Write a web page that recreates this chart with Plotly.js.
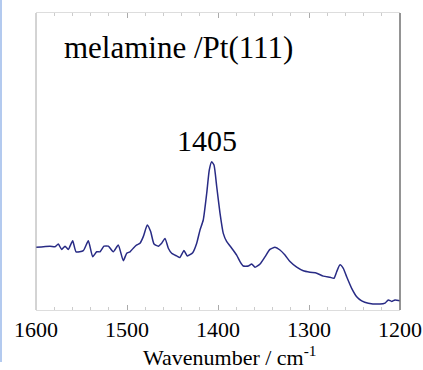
<!DOCTYPE html>
<html>
<head>
<meta charset="utf-8">
<script src="https://cdn.plot.ly/plotly-3.0.1.min.js"></script>
<style>
  html, body { margin: 0; padding: 0; background: #fff; }
  #strip { position: absolute; left: 0; top: 0; width: 2px; height: 362px; background: #b3caef; z-index: 5; }
  #chart { width: 423px; height: 370px; }
</style>
</head>
<body>
<div id="strip"></div>
<div id="chart"></div>
<script>
// Wavenumber (cm^-1)
const wavenumber = [1600,1584.6,1579.1,1575.5,1571.8,1568.1,1564.5,1559.7,1556.0,1548.0,
  1542.5,1537.7,1533.3,1529.7,1525.3,1520.5,1515.1,1509.6,1504.1,1500.3,
  1496.7,1493.1,1489.3,1485.7,1482.1,1477.7,1474.0,1470.3,1465.6,1461.9,
  1458.2,1454.6,1450.9,1445.4,1441.8,1437.4,1433.7,1427.8,1423.4,1419.8,
  1416.2,1412.4,1409.6,1406.9,1404.4,1401.4,1397.8,1394.2,1390.4,1384.9,
  1379.5,1375.8,1372.2,1366.7,1363.0,1359.3,1353.8,1348.4,1342.9,1337.4,
  1331.9,1326.4,1320.9,1313.5,1306.3,1298.9,1291.5,1284.3,1276.9,1272.5,
  1269.6,1265.9,1262.3,1258.6,1253.1,1247.6,1242.1,1234.8,1222.0,1216.5,
  1212.9,1209.1,1205.5,1200];
// Intensity (arbitrary units)
const intensity = [21.1,21.5,21.3,22.2,20.4,21.5,20.4,23.3,19.6,20.0,
  23.3,17.9,19.6,19.6,21.5,21.5,19.6,21.9,16.6,19.1,
  19.6,20.8,21.9,22.5,24.7,28.6,26.4,22.2,21.5,22.5,
  24.1,20.8,19.1,18.2,17.7,20.0,18.2,19.3,22.5,26.9,
  30.3,39.3,47.1,49.9,48.8,41.5,32.6,25.8,23.0,20.8,
  18.5,16.3,14.8,14.8,15.5,14.4,15.5,17.9,20.4,21.1,
  20.2,18.5,16.3,14.4,13.2,12.7,12.4,11.4,11.0,10.7,
  12.9,15.2,14.0,11.2,7.3,4.5,3.1,2.3,2.0,2.3,
  3.4,2.9,3.4,3.1];
const tickValues = [1600,1500,1400,1300,1200];
const tickLabels = ['1600','1500','1400','1300','1200'];
const sampleLabel = 'melamine /Pt(111)';
const peakLabel = '1405';
const peakPosition = 1412;
const peakLabelHeight = 57.2;
const xTitle = 'Wavenumber / cm<sup>-1</sup>';

const serif = 'Times New Roman';

Plotly.newPlot('chart', [{
  x: wavenumber, y: intensity, type: 'scatter', mode: 'lines',
  line: { color: '#282b85', width: 1.5, shape: 'spline', smoothing: 0.5 },
  hoverinfo: 'skip'
}], {
  width: 423, height: 370,
  margin: { l: 36, r: 23, t: 13, b: 60, pad: 0 },
  paper_bgcolor: '#fff', plot_bgcolor: '#fff',
  showlegend: false,
  font: { family: serif, color: '#000' },
  xaxis: {
    range: [1600, 1200], tickmode: 'array', tickvals: tickValues, ticktext: tickLabels,
    ticks: 'inside', ticklen: 5, tickwidth: 1, tickcolor: '#aaaaaa',
    showline: true, linecolor: '#dddddd', linewidth: 1, mirror: 'ticks',
    minor: { dtick: 20, tick0: 1200, ticks: 'inside', ticklen: 3, tickcolor: '#cccccc', showgrid: false },
    showgrid: false, zeroline: false,
    tickfont: { family: serif, size: 22, color: '#000' }
  },
  yaxis: {
    range: [0, 100], showticklabels: false, ticks: '', showgrid: false, zeroline: false, showline: false
  },
  shapes: [
    { type: 'line', xref: 'paper', yref: 'paper', x0: 0, x1: 0, y0: 0, y1: 1, line: { color: '#a8a8a8', width: 1 } },
    { type: 'line', xref: 'paper', yref: 'paper', x0: 1, x1: 1, y0: 0, y1: 1, line: { color: '#707070', width: 1.5 } }
  ],
  annotations: [
    { text: sampleLabel, xref: 'paper', yref: 'paper', x: 0.0714, y: 0.8855, xanchor: 'left', yanchor: 'middle',
      showarrow: false, font: { family: serif, size: 31, color: '#000' } },
    { text: peakLabel, xref: 'x', yref: 'y', x: peakPosition, y: peakLabelHeight, xanchor: 'center', yanchor: 'middle',
      showarrow: false, font: { family: serif, size: 30, color: '#000' } },
    { text: xTitle, xref: 'paper', yref: 'paper', x: 0.534, y: -0.155, xanchor: 'center', yanchor: 'middle',
      showarrow: false, font: { family: serif, size: 22, color: '#000' } }
  ]
}, { staticPlot: true, displayModeBar: false });
</script>
</body>
</html>
